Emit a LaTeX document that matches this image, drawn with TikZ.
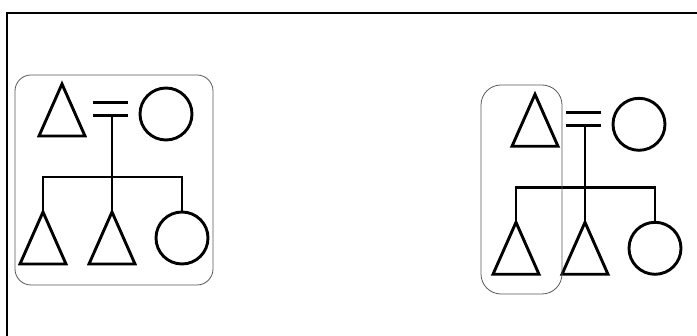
\documentclass[tikz,border=0pt]{standalone}
\usetikzlibrary{shapes.geometric}
\tikzset{
  ped/.style={line width=2.9pt, black},
  tri/.style={ped, draw, isosceles triangle, isosceles triangle stretches,
    shape border rotate=90, minimum width=46pt, minimum height=52pt,
    inner sep=0pt, outer sep=0pt, anchor=apex},
  fem/.style={ped, draw, circle, minimum size=52pt, inner sep=0pt, outer sep=0pt},
  grp/.style={draw=black!65, line width=0.8pt, rounded corners=16pt, rectangle, inner sep=0pt},
  frame/.style={line width=2pt, black}
}
\newcommand{\pedig}[1]{%
  \node[tri] (#1f) at (62,84) {};
  \node[fem] (#1m) at (166,114) {};
  \coordinate (#1e1a) at (93,102.5); \coordinate (#1e1b) at (128,102.5);
  \coordinate (#1e2a) at (93,115.5); \coordinate (#1e2b) at (128,115.5);
  \coordinate (#1top) at (112,115.5);
  \coordinate (#1mid) at (112,177);
  \node[tri] (#1s1) at (43,212) {};
  \node[tri] (#1s2) at (112,212) {};
  \node[fem] (#1d) at (182,238) {};
  \draw[ped] (#1e1a) -- (#1e1b);
  \draw[ped] (#1e2a) -- (#1e2b);
  \draw[ped] (#1top) -- (#1s2.apex);
  \draw[ped] (#1s1.apex) |- (#1mid) -| (#1d.north);
}
\begin{document}
\begin{tikzpicture}[x=1pt,y=-1pt]
  \useasboundingbox (0,0) rectangle (697,336);
  \coordinate (fr1) at (7,336);
  \coordinate (fr2) at (7,13);
  \coordinate (fr3) at (698,13);
  \draw[frame] (fr1) -- (fr2) -- (fr3);
  \pedig{a}
  \begin{scope}[shift={(473,10.3)}]
    \pedig{b}
  \end{scope}
  \node[grp, minimum width=198pt, minimum height=210pt] (g1) at (114,180) {};
  \node[grp, rounded corners=20pt, minimum width=81pt, minimum height=209pt] (g2) at (521.5,189.5) {};
\end{tikzpicture}
\end{document}
